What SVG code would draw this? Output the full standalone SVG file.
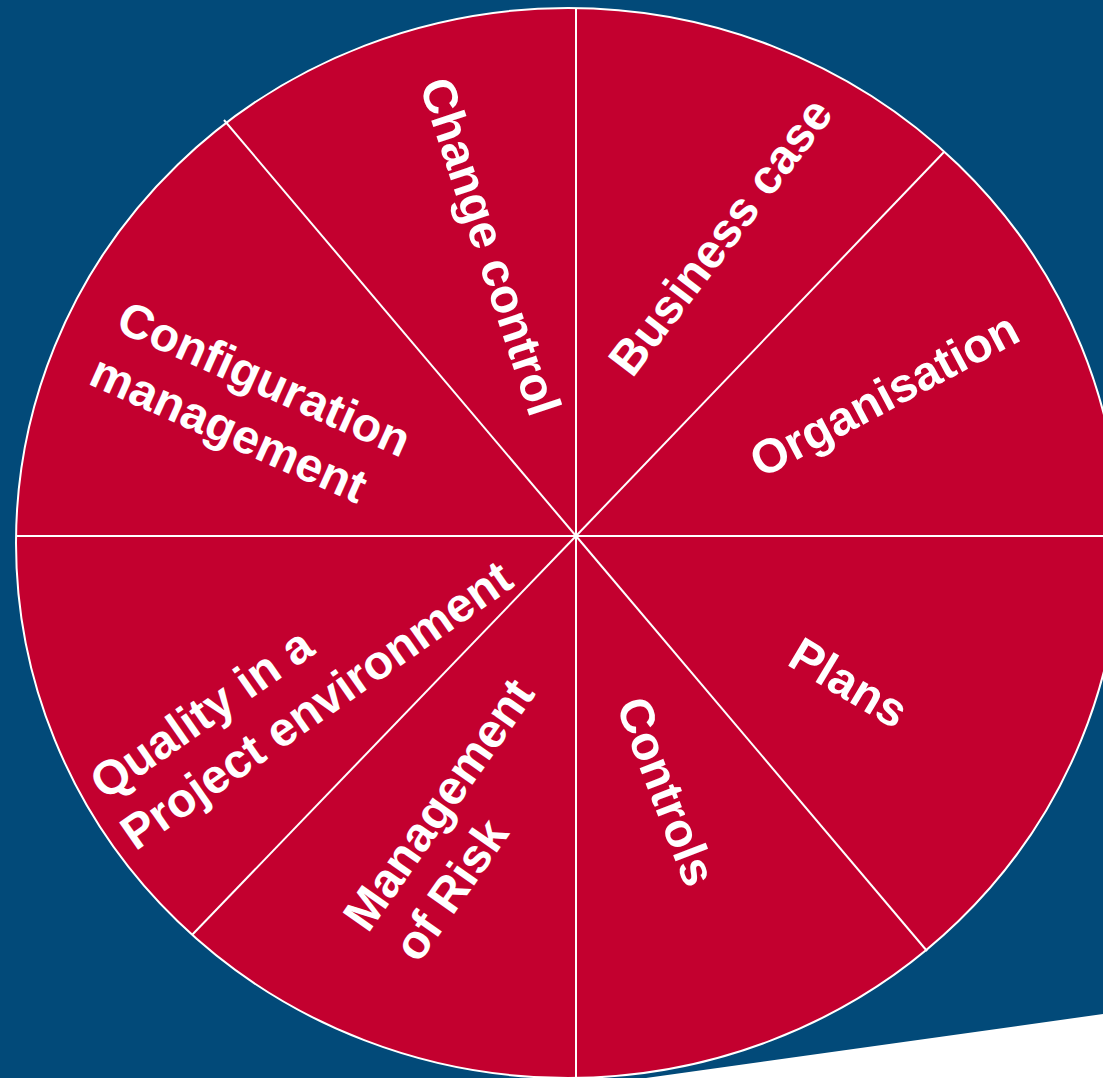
<svg xmlns="http://www.w3.org/2000/svg" width="1103" height="1078" viewBox="0 0 1103 1078">
<style>
.bg{fill:#024A79}
.wheel{fill:#C3002F;stroke:#FFFFFF;stroke-width:2}
.spoke{stroke:#FFFFFF;stroke-width:2;fill:none}
.lbl{font-family:"Liberation Sans",Arial,sans-serif;font-weight:bold;font-size:48px;fill:#FFFFFF}
.mid{text-anchor:middle}
</style>
<rect class="bg" x="0" y="0" width="1103" height="1078"/>
<polygon points="646,1078 1103,1014 1103,1078" fill="#FFFFFF"/>
<g id="wheel">
<ellipse class="wheel" cx="568" cy="543" rx="552" ry="535"/>
</g>
<g id="connectors">
<line class="spoke" x1="576" y1="8" x2="576" y2="1078"/>
<line class="spoke" x1="16" y1="536" x2="1120" y2="536"/>
<line class="spoke" x1="576" y1="536" x2="224" y2="120"/>
<line class="spoke" x1="576" y1="536" x2="944" y2="152"/>
<line class="spoke" x1="576" y1="536" x2="927" y2="951"/>
<line class="spoke" x1="576" y1="536" x2="192" y2="935"/>
</g>
<g id="change-control">
<text class="lbl mid" transform="translate(489,247) rotate(71.6)" x="0" y="15">Change control</text>
</g>
<g id="business-case">
<text class="lbl mid" transform="translate(721.5,237.5) rotate(-52.6)" x="0" y="15">Business case</text>
</g>
<g id="organisation">
<text class="lbl mid" transform="translate(885,396) rotate(-28)" x="0" y="15">Organisation</text>
</g>
<g id="plans">
<text class="lbl mid" transform="translate(848,684) rotate(31)" x="0" y="15">Plans</text>
</g>
<g id="controls">
<text class="lbl mid" transform="translate(665,792) rotate(69)" x="0" y="15">Controls</text>
</g>
<g id="management-of-risk">
<text class="lbl" transform="translate(368,934) rotate(-55)"><tspan x="0" y="0">Management</tspan><tspan x="4" y="59">of Risk</tspan></text>
</g>
<g id="quality">
<text class="lbl" transform="translate(105,801) rotate(-35)"><tspan x="0" y="0">Quality in a</tspan><tspan x="-4" y="59">Project environment</tspan></text>
</g>
<g id="configuration-management">
<text class="lbl" transform="translate(114,330) rotate(24)"><tspan x="0" y="0">Configuration</tspan><tspan x="-3" y="60">management</tspan></text>
</g>
</svg>
